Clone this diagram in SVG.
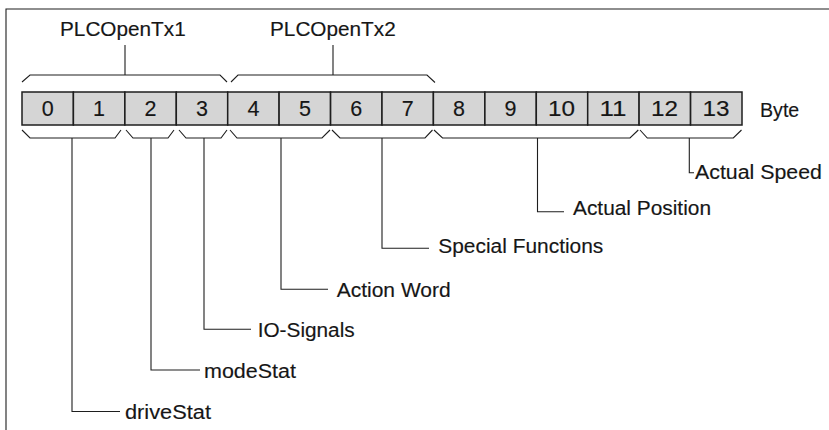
<svg xmlns="http://www.w3.org/2000/svg" width="829" height="430" viewBox="0 0 829 430">
<style>
text{font-family:"Liberation Sans",Arial,sans-serif;font-size:20px;fill:#161616;stroke:#161616;stroke-width:0.15}
.d{text-anchor:middle;font-size:21.5px}
.cell{fill:#d5d5d5;stroke:#1e1e1e;stroke-width:1.5}
.ln{fill:none;stroke:#1e1e1e;stroke-width:1.1}
</style>
<rect width="829" height="430" fill="#fff"/>
<path class="ln" d="M6,430 V9 H829" stroke-width="1.5"/>
<g id="bytes">
<rect class="cell" x="22" y="92" width="51.4" height="33"/>
<rect class="cell" x="73.4" y="92" width="51.4" height="33"/>
<rect class="cell" x="124.9" y="92" width="51.4" height="33"/>
<rect class="cell" x="176.3" y="92" width="51.4" height="33"/>
<rect class="cell" x="227.7" y="92" width="51.4" height="33"/>
<rect class="cell" x="279.1" y="92" width="51.4" height="33"/>
<rect class="cell" x="330.6" y="92" width="51.4" height="33"/>
<rect class="cell" x="382" y="92" width="51.4" height="33"/>
<rect class="cell" x="433.4" y="92" width="51.4" height="33"/>
<rect class="cell" x="484.9" y="92" width="51.4" height="33"/>
<rect class="cell" x="536.3" y="92" width="51.4" height="33"/>
<rect class="cell" x="587.7" y="92" width="51.4" height="33"/>
<rect class="cell" x="639.1" y="92" width="51.4" height="33"/>
<rect class="cell" x="690.6" y="92" width="51.4" height="33"/>
<text class="d" x="47.7" y="115.5">0</text>
<text class="d" x="99.1" y="115.5">1</text>
<text class="d" x="150.6" y="115.5">2</text>
<text class="d" x="202" y="115.5">3</text>
<text class="d" x="253.4" y="115.5">4</text>
<text class="d" x="304.9" y="115.5">5</text>
<text class="d" x="356.3" y="115.5">6</text>
<text class="d" x="407.7" y="115.5">7</text>
<text class="d" x="459.1" y="115.5">8</text>
<text class="d" x="510.6" y="115.5">9</text>
<text class="d" x="561.5" y="115.5" textLength="27" lengthAdjust="spacingAndGlyphs">10</text>
<text class="d" x="613" y="115.5" textLength="27" lengthAdjust="spacingAndGlyphs">11</text>
<text class="d" x="664.5" y="115.5" textLength="27" lengthAdjust="spacingAndGlyphs">12</text>
<text class="d" x="716" y="115.5" textLength="27" lengthAdjust="spacingAndGlyphs">13</text>
<text x="760" y="116.7" textLength="39.3" lengthAdjust="spacingAndGlyphs">Byte</text>
</g>
<g id="connectors">
<path class="ln" d="M22,82 L30,75 H220 L227,82 M125,75 V45"/>
<path class="ln" d="M231,82 L238,75 H427 L435,82.5 M333,75 V45"/>
<path class="ln" d="M22,130 L30,138 H115 L121,130"/>
<path class="ln" d="M126,130 L133,138 H168 L174,130"/>
<path class="ln" d="M179,130 L186,138 H221 L227,130"/>
<path class="ln" d="M230,130 L237,138 H322 L330,130"/>
<path class="ln" d="M332,130 L340,138 H425 L432.5,130"/>
<path class="ln" d="M434,130 L442.5,138 H630 L638.3,130"/>
<path class="ln" d="M640,130 L647.3,138 H733.3 L741.5,130"/>
<path class="ln" d="M72,138 V411.5 H120"/>
<path class="ln" d="M151,138 V370 H200"/>
<path class="ln" d="M204,138 V329.3 H251"/>
<path class="ln" d="M281,138 V289.3 H328"/>
<path class="ln" d="M382,138 V248.3 H429"/>
<path class="ln" d="M537.5,138 V211.7 H564"/>
<path class="ln" d="M689.3,138 V172.7 H694"/>
</g>
<g id="PLCOpenTx1"><text x="60" y="35.7" textLength="125.7" lengthAdjust="spacingAndGlyphs">PLCOpenTx1</text></g>
<g id="PLCOpenTx2"><text x="270" y="35.7" textLength="125.7" lengthAdjust="spacingAndGlyphs">PLCOpenTx2</text></g>
<g id="driveStat"><text x="125" y="419.3" textLength="86" lengthAdjust="spacingAndGlyphs">driveStat</text></g>
<g id="modeStat"><text x="204" y="378.3" textLength="92" lengthAdjust="spacingAndGlyphs">modeStat</text></g>
<g id="IO-Signals"><text x="257.7" y="337.3" textLength="97" lengthAdjust="spacingAndGlyphs">IO-Signals</text></g>
<g id="ActionWord"><text x="336.7" y="296.7" textLength="114" lengthAdjust="spacingAndGlyphs">Action Word</text></g>
<g id="SpecialFunctions"><text x="438.3" y="253" textLength="165" lengthAdjust="spacingAndGlyphs">Special Functions</text></g>
<g id="ActualPosition"><text x="573" y="215.3" textLength="138" lengthAdjust="spacingAndGlyphs">Actual Position</text></g>
<g id="ActualSpeed"><text x="695" y="179.3" textLength="127" lengthAdjust="spacingAndGlyphs">Actual Speed</text></g>
</svg>
